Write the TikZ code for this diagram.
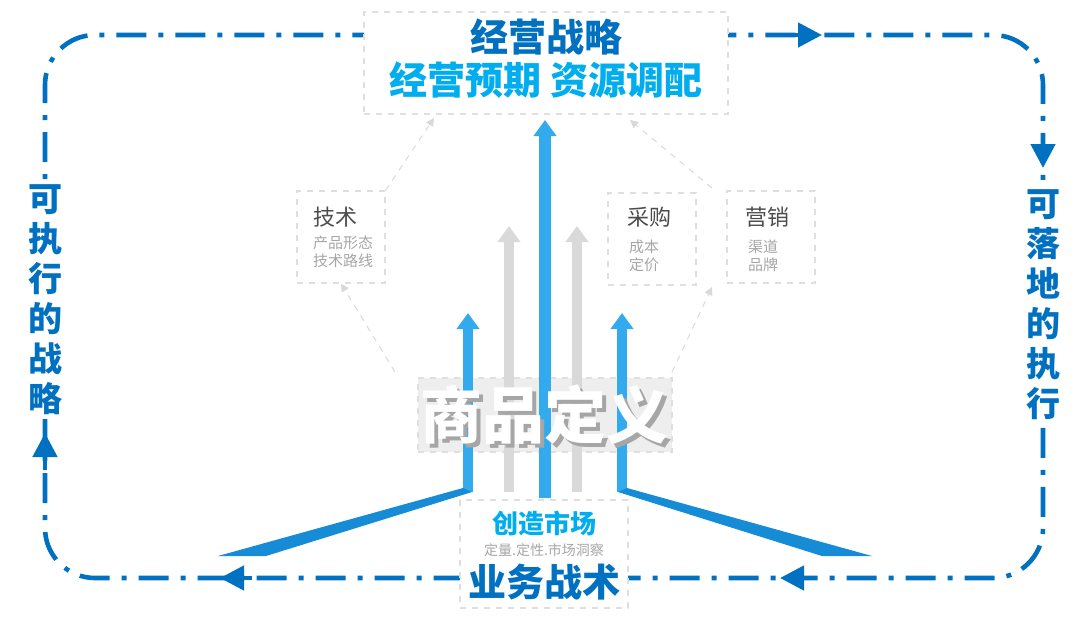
\documentclass[tikz,border=0pt]{standalone}
\usepackage{fontspec}
\setmainfont{Noto Sans CJK SC}
\usepackage{tikz}
\usetikzlibrary{arrows.meta,positioning}
\definecolor{deep blue}{RGB}{0,112,192}
\definecolor{sky blue}{RGB}{0,174,239}
\definecolor{arrow blue}{RGB}{52,170,238}
\definecolor{wedge blue}{RGB}{22,140,214}
\tikzset{
  loop line/.style={deep blue, line width=2.3pt, dash pattern=on 15pt off 6pt on 2.5pt off 6pt},
  loop tip/.style={-{Triangle[length=12pt,width=12pt]}, deep blue, line width=2.3pt},
  frame box/.style={draw=gray!25, dashed, line width=0.6pt},
  up arrow/.style={line width=5pt, -{Triangle[length=8pt,width=11pt]}},
  hint arrow/.style={gray!30, dashed, line width=0.5pt, -{Triangle[length=4pt,width=4pt]}}
}
\begin{document}
\begin{tikzpicture}[x=0.5pt,y=-0.5pt]
			\useasboundingbox (0,0) rectangle (1080,632);
			% outer loop
			\draw[loop line, rounded corners=25pt]
				(45,330) -- (45,35) -- (1043,35) -- (1043,578) -- (45,578) -- cycle;
			\draw[loop tip] (790,35) -- (822,35);
			\draw[loop tip] (1043,135) -- (1043,168);
			\draw[loop tip] (812,578) -- (780,578);
			\draw[loop tip] (252,578) -- (220,578);
			\draw[loop tip] (45,470) -- (45,433);
			% side texts
			\node[fill=white, text=deep blue, font=\bfseries\fontsize{17}{20}\selectfont, align=center, inner sep=2pt]
				(left) at (45,300) {可\\执\\行\\的\\战\\略};
			\node[fill=white, text=deep blue, font=\bfseries\fontsize{17}{20}\selectfont, align=center, inner sep=2pt]
				(right) at (1043,305) {可\\落\\地\\的\\执\\行};
			% top box
			\node[frame box, fill=white, minimum width=182pt, minimum height=51pt] (strategy) at (546,63) {};
			\node[text=deep blue, font=\bfseries\fontsize{19}{20}\selectfont] (strategy title) at (546,37) {经营战略};
			\node[text=sky blue, font=\bfseries\fontsize{19}{20}\selectfont] (strategy sub) at (546,80) {经营预期\ 资源调配};
			% small boxes
			\node[frame box, minimum width=44pt, minimum height=46pt] (tech) at (341,237) {};
			\node[text=gray!60!black, font=\fontsize{11}{13}\selectfont, anchor=north west] at (306,200) {技术};
			\node[text=gray!70, font=\fontsize{7.5}{9}\selectfont, align=left, anchor=north west] at (306,229) {产品形态\\技术路线};
			\node[frame box, minimum width=44pt, minimum height=46pt] (buy) at (652,239) {};
			\node[text=gray!60!black, font=\fontsize{11}{13}\selectfont, anchor=north west] at (620,200) {采购};
			\node[text=gray!70, font=\fontsize{7.5}{9}\selectfont, align=left, anchor=north west] at (622,233) {成本\\定价};
			\node[frame box, minimum width=44pt, minimum height=46pt] (sell) at (771,237) {};
			\node[text=gray!60!black, font=\fontsize{11}{13}\selectfont, anchor=north west] at (738,200) {营销};
			\node[text=gray!70, font=\fontsize{7.5}{9}\selectfont, align=left, anchor=north west] at (741,233) {渠道\\品牌};
			% product box
			\node[frame box, fill=gray!13, minimum width=127pt, minimum height=37pt] (product) at (545,415) {};
			% hint arrows
			\coordinate (top left) at (434,118);
			\coordinate (top right) at (630,120);
			\draw[hint arrow] (395,372) -- (tech.south);
			\draw[hint arrow] (tech.north east) -- (top left);
			\draw[hint arrow] (672,372) -- (712,287);
			\draw[hint arrow] (712,188) -- (top right);
			% up arrows
			\draw[up arrow, gray!30] (509,492) -- (509,226);
			\draw[up arrow, gray!30] (577,492) -- (577,226);
			\draw[up arrow, arrow blue] (468,492) -- (468,313);
			\draw[up arrow, arrow blue] (622,492) -- (622,313);
			\draw[up arrow, arrow blue, line width=6pt] (545,498) -- (545,120);
			% wedges
			\fill[wedge blue] (463,488) -- (472,492) -- (266,556) -- (218,556) -- cycle;
			\fill[wedge blue] (618,492) -- (627,488) -- (872,556) -- (822,556) -- cycle;
			% product text
			\node[text=gray!70, font=\bfseries\fontsize{31}{32}\selectfont] at (548,419) {商品定义};
			\node[text=white, font=\bfseries\fontsize{31}{32}\selectfont] (product title) at (544,415) {商品定义};
			% bottom box
			\node[frame box, fill=white, minimum width=84pt, minimum height=54pt] (tactics) at (544,554) {};
			\node[text=sky blue, font=\bfseries\fontsize{13}{15}\selectfont] (market) at (544,523) {创造市场};
			\node[text=gray!70, font=\fontsize{7}{8}\selectfont] (insight) at (544,550) {定量.定性.市场洞察};
			\node[text=deep blue, font=\bfseries\fontsize{19}{20}\selectfont] (tactics title) at (544,582) {业务战术};
		\end{tikzpicture}
\end{document}
